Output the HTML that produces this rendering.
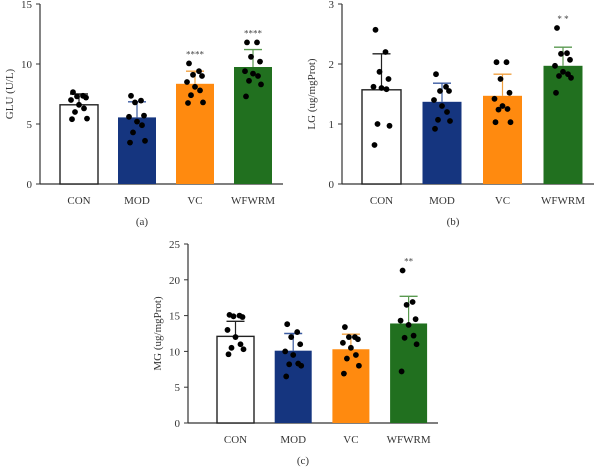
<!DOCTYPE html>
<html><head><meta charset="utf-8"><style>
body{margin:0;background:#fff;}
svg{display:block;font-family:"Liberation Serif",serif;}
</style></head><body>
<svg id="c" width="604" height="467" viewBox="0 0 604 467"></svg>
<script>
const categories=["CON","MOD","VC","WFWRM"];
const gluMeans=[6.6,5.55,8.35,9.75];
const gluErr=[7.5,6.85,9.4,11.2];
const gluDots=[[7.65,7.35,7.3,7.2,7.0,6.6,6.3,6.0,5.45,5.4],[7.35,6.95,6.8,5.7,5.6,5.2,4.9,4.3,3.6,3.45],[10.05,9.4,9.1,9.0,8.5,8.1,7.8,7.4,6.8,6.75],[11.8,11.8,10.6,10.2,9.4,9.2,9.0,8.6,8.3,7.3]];
const gluTicks=[0,5,10,15];
const gluSig=["","","****","****"];
const lgMeans=[1.57,1.37,1.47,1.97];
const lgErr=[2.17,1.68,1.83,2.28];
const lgDots=[[2.57,2.2,1.87,1.75,1.62,1.6,1.58,1.0,0.97,0.65],[1.83,1.62,1.55,1.55,1.4,1.3,1.2,1.07,1.05,0.92],[2.03,2.03,1.75,1.52,1.42,1.3,1.25,1.24,1.03,1.03],[2.6,2.18,2.17,2.07,1.97,1.87,1.83,1.8,1.77,1.52]];
const lgTicks=[0,1,2,3];
const lgSig=["","","","* *"];
const mgMeans=[12.1,10.1,10.3,13.9];
const mgErr=[14.2,12.5,12.4,17.7];
const mgDots=[[15.1,15.0,14.9,14.8,13.0,12.0,11.0,10.5,10.3,9.6],[13.8,12.7,12.0,11.0,10.0,9.5,8.3,8.2,8.0,6.5],[13.4,12.0,12.0,11.7,11.2,10.5,9.5,9.0,8.0,6.9],[21.3,16.9,16.5,14.5,14.3,13.7,12.2,11.9,11.0,7.2]];
const mgTicks=[0,5,10,15,20,25];
const mgSig=["","","","**"];

const fills=["#ffffff","#15357f","#ff8a0f","#21701f"];
const errCols=["#222","#3a5aa0","#f0a040","#5a9a50"];
const jit=[-6,4,-2,7,-8,0,5,-4,8,-7];
const NS="http://www.w3.org/2000/svg";
const svg=document.getElementById('c');
function mk(tag,attrs,parent,text){const e=document.createElementNS(NS,tag);for(const k in attrs)e.setAttribute(k,attrs[k]);if(text!==undefined)e.textContent=text;(parent||svg).appendChild(e);return e;}

function panel(p){
  const g=mk('g',{});
  
  
  const max=p.ticks[p.ticks.length-1];
  const y=v=>p.y0-(v/max)*(p.y0-p.yTop);
  const bx=i=>p.firstX+i*p.step;
  const ax=mk('line',{x1:p.ax,y1:p.yTop,x2:p.ax,y2:p.y0,stroke:'#333','stroke-width':1.2},g);
  
  const xa=mk('line',{x1:p.ax,y1:p.y0,x2:p.xEnd,y2:p.y0,stroke:'#333','stroke-width':1.2},g);
  
  p.ticks.forEach(t=>{
    mk('line',{x1:p.ax-4,y1:y(t),x2:p.ax,y2:y(t),stroke:'#333'},g);
    const tl=mk('text',{x:p.ax-8,y:y(t)+4,'text-anchor':'end','font-size':11,fill:'#333'},g,t);
    
  });
  const yl=mk('text',{x:0,y:0,'text-anchor':'middle','font-size':11,fill:'#333',transform:`translate(${p.ax-27},${(p.yTop+p.y0)/2}) rotate(-90)`},g,p.ylabel);
  
  categories.forEach((c,i)=>{
    const x=bx(i),cx=x+p.bw/2;
    const r=mk('rect',{x:x,y:y(p.means[i]),width:p.bw,height:p.y0-y(p.means[i]),fill:fills[i],stroke:i==0?'#222':'none','stroke-width':1.4},g);
    
    const ec=errCols[i];
    mk('line',{x1:cx,y1:y(p.means[i]),x2:cx,y2:y(p.err[i]),stroke:ec,'stroke-width':1.2},g);
    const cap=mk('line',{x1:cx-9,y1:y(p.err[i]),x2:cx+9,y2:y(p.err[i]),stroke:ec,'stroke-width':1.4},g);
    
    p.dots[i].forEach((v,j)=>{
      const d=mk('circle',{cx:cx+jit[j],cy:y(v),r:2.9,fill:'#000'},g);
      
    });
    if(p.sig[i]){
      const top=Math.max(p.err[i],Math.max(...p.dots[i]));
      const s=mk('text',{x:cx,y:y(top)-6,'text-anchor':'middle','font-size':9,fill:'#444'},g,p.sig[i]);
      
    }
    const xl=mk('text',{x:cx,y:p.y0+20,'text-anchor':'middle','font-size':11,fill:'#333'},g,c);
    
  });
  const pl=mk('text',{x:p.labelX,y:p.y0+41,'text-anchor':'middle','font-size':11,fill:'#333'},g,p.letter);
  
}
panel({name:'panel-a-glu',means:gluMeans,err:gluErr,dots:gluDots,ticks:gluTicks,sig:gluSig,ylabel:'GLU (U/L)',ax:40,yTop:4,y0:184,xEnd:283,firstX:60,step:58,bw:38,labelX:142,letter:'(a)'});
panel({name:'panel-b-lg',means:lgMeans,err:lgErr,dots:lgDots,ticks:lgTicks,sig:lgSig,ylabel:'LG (ug/mgProt)',ax:342,yTop:4,y0:184,xEnd:594,firstX:362,step:60.5,bw:39,labelX:453,letter:'(b)'});
panel({name:'panel-c-mg',means:mgMeans,err:mgErr,dots:mgDots,ticks:mgTicks,sig:mgSig,ylabel:'MG (ug/mgProt)',ax:188,yTop:244,y0:423,xEnd:438,firstX:217,step:57.7,bw:37,labelX:303,letter:'(c)'});
</script>
</body></html>
